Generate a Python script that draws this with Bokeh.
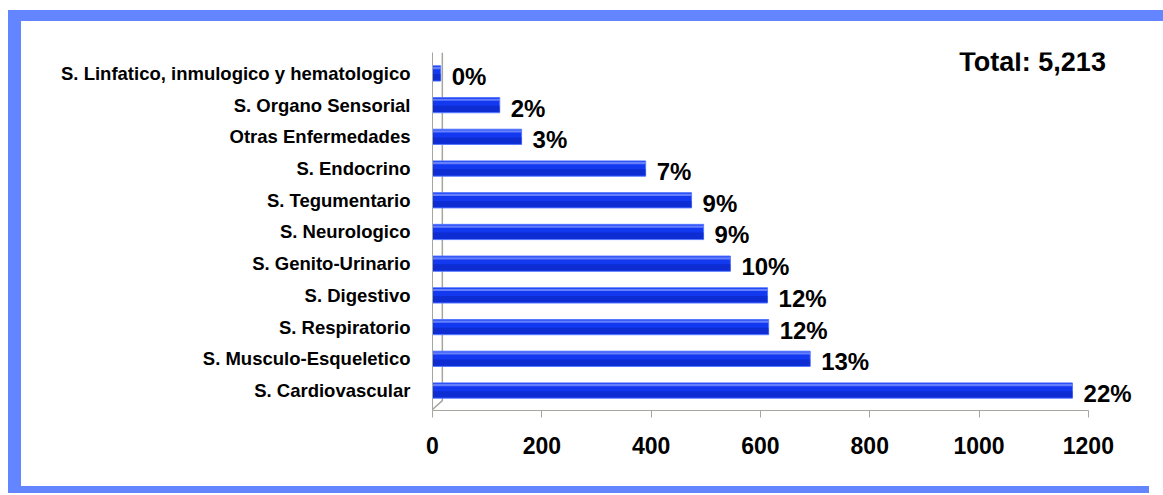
from bokeh.plotting import figure
from bokeh.models import ColumnDataSource, FixedTicker, Label, Range1d
from bokeh.core.properties import value
from bokeh.transform import dodge
from bokeh.embed import file_html
from bokeh.resources import INLINE

# ---- data (bottom to top) ----
categories = [
    "S. Cardiovascular",
    "S. Musculo-Esqueletico",
    "S. Respiratorio",
    "S. Digestivo",
    "S. Genito-Urinario",
    "S. Neurologico",
    "S. Tegumentario",
    "S. Endocrino",
    "Otras Enfermedades",
    "S. Organo Sensorial",
    "S. Linfatico, inmulogico y hematologico",
]
counts = [1171, 691, 615, 613, 545, 496, 474, 390, 163, 123, 15]
pct_labels = ["22%", "13%", "12%", "12%", "10%", "9%", "9%", "7%", "3%", "2%", "0%"]
x_ticks = [0, 200, 400, 600, 800, 1000, 1200]
total_label = "Total: 5,213"

FONT = "Liberation Sans"
GRAY = "#a4a6a0"
FRAME_BLUE = "#6385ff"

W, H = 1128, 465
idx = list(range(len(categories)))
src = ColumnDataSource(dict(y=idx, right=counts, label=pct_labels))

p = figure(width=W, height=H, output_backend="svg", toolbar_location=None,
           x_range=Range1d(0, 1310), y_range=Range1d(-0.63, 10.66),
           min_border_left=411, min_border_right=1,
           min_border_top=31, min_border_bottom=76)
p.outline_line_color = None
p.background_fill_color = "white"
p.border_fill_color = "white"
p.xgrid.visible = False
p.ygrid.visible = False
# blue frame drawn as box-shadows so it does not change the canvas size
p.styles = {
    "margin-left": "21px",
    "margin-top": "21px",
    "background-color": "white",
    "box-shadow": (f"-13px -11px 0 0 {FRAME_BLUE}, 0 -11px 0 0 {FRAME_BLUE}, "
                   f"241px -238px 0 -227px {FRAME_BLUE}, "
                   f"-13px 7px 0 0 {FRAME_BLUE}, 0 7px 0 0 {FRAME_BLUE}"),
}

# y axis with category names
yax = p.yaxis[0]
yax.ticker = FixedTicker(ticks=idx)
yax.major_label_overrides = {i: c for i, c in zip(idx, categories)}
yax.axis_line_color = GRAY
yax.major_tick_out = 0
yax.major_tick_in = 0
yax.minor_tick_out = 0
yax.minor_tick_in = 0
yax.major_label_standoff = 22
yax.major_label_text_font = FONT
yax.major_label_text_font_style = "bold"
yax.major_label_text_font_size = "18.5px"
yax.major_label_text_color = "black"

# x axis
xax = p.xaxis[0]
xax.ticker = FixedTicker(ticks=x_ticks)
xax.bounds = (0, 1200)
xax.axis_line_color = GRAY
xax.major_tick_line_color = GRAY
xax.major_tick_out = 7
xax.major_tick_in = 0
xax.minor_tick_out = 0
xax.minor_tick_in = 0
xax.major_label_standoff = 19
xax.major_label_text_font = FONT
xax.major_label_text_font_style = "bold"
xax.major_label_text_font_size = "23px"
xax.major_label_text_color = "black"

# 3D wall lines
p.line(x=[18, 18, 0], y=[10.66, -0.32, -0.6], line_color=GRAY, line_width=1.5)

# bars (layered for a cylinder-like look)
p.hbar(y="y", left=0, right="right", height=0.48, source=src,
       fill_color="#1238f0", line_color="#5577ff", line_width=1)
p.hbar(y=dodge("y", -0.12), left=0, right="right", height=0.2, source=src,
       fill_color="#0a22b8", fill_alpha=0.55, line_color=None)
p.hbar(y=dodge("y", 0.17), left=0, right="right", height=0.07, source=src,
       fill_color="#7a92ff", fill_alpha=0.8, line_color=None)

# percentage labels
p.text(x="right", y="y", text="label", source=src, x_offset=11, y_offset=3,
       text_font=value(FONT), text_font_style="bold", text_font_size="24px",
       text_baseline="middle", text_align="left", text_color="black")

# total label
p.add_layout(Label(x=1098, y=10.35, text=total_label, text_font=FONT,
                   text_font_style="bold", text_font_size="27px",
                   text_align="center", text_baseline="middle", text_color="black"))

open("out.html", "w").write(file_html(p, INLINE))
